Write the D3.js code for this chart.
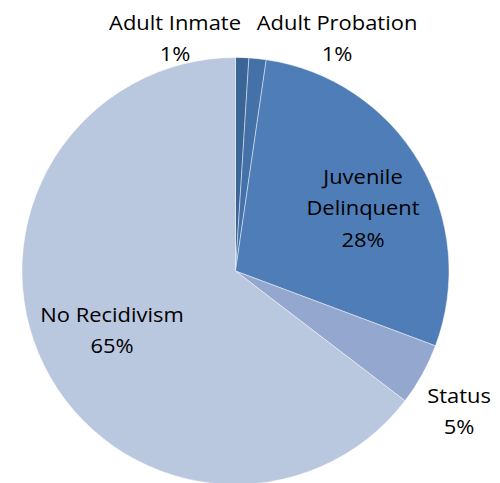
<!DOCTYPE html>
<html>
<head>
<meta charset="utf-8">
<script src="https://cdn.jsdelivr.net/npm/d3@7"></script>
<style>
  html, body { margin: 0; padding: 0; background: #fff; }
  svg { display: block; }
</style>
</head>
<body>
<svg id="chart" width="500" height="483"></svg>
<script>
// Recidivism outcome shares (percent), clockwise from 12 o'clock
const categories = ["Adult Inmate", "Adult Probation", "Juvenile Delinquent", "Status", "No Recidivism"];
const values = [1.0, 1.3, 28.4, 4.7, 64.6];
const valueLabels = ["1%", "1%", "28%", "5%", "65%"];
const nameLines = [["Adult Inmate"], ["Adult Probation"], ["Juvenile", "Delinquent"], ["Status"], ["No Recidivism"]];
const colors = ["#3b6497", "#4571a9", "#4f7db8", "#94a7cf", "#b9c7df"];

const svg = d3.select("#chart");
const cx = 235.5, cy = 271, radius = 213.5;

const pie = d3.pie().sort(null).value(d => d.value);
const arc = d3.arc().innerRadius(0).outerRadius(radius);

const data = categories.map((c, i) => ({ name: c, value: values[i], color: colors[i], lines: nameLines[i], pct: valueLabels[i] }));
const arcs = pie(data);

const g = svg.append("g").attr("transform", `translate(${cx},${cy})`);
g.selectAll("path.slice")
  .data(arcs)
  .join("path")
  .attr("class", "slice")
  .attr("d", arc)
  .attr("fill", d => d.data.color)
  .attr("stroke", "rgba(255,255,255,0.55)")
  .attr("stroke-width", 0.8);

// Label anchors (centre x, first baseline y), placed around the pie
const labelPos = [
  [175, 30],
  [337, 30],
  [363, 184],
  [459, 403],
  [112, 322]
];
const lineGap = 31.5;

const labels = svg.append("g")
  .attr("font-family", "'Open Sans', Lato, sans-serif")
  .attr("font-size", 20.5)
  .attr("fill", "#000")
  .attr("text-anchor", "middle");

// Labels are slightly widened horizontally
arcs.forEach((d, i) => {
  const [lx, ly] = labelPos[i];
  const lines = d.data.lines.concat([d.data.pct]);
  const t = labels.append("text")
    .attr("transform", `translate(${lx},${ly}) scale(1.07,1)`);
  lines.forEach((s, k) => {
    t.append("tspan").attr("x", 0).attr("y", k * lineGap).text(s);
  });
});
</script>
</body>
</html>
